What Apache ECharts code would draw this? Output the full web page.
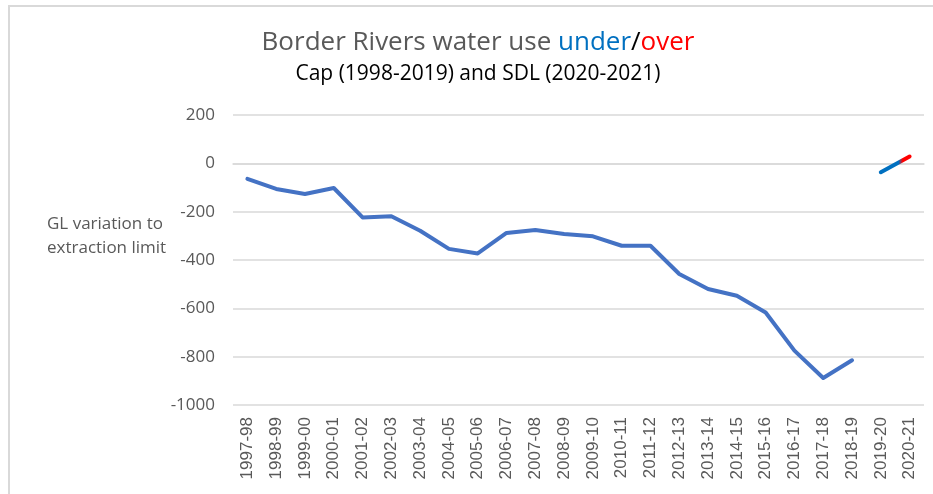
<!DOCTYPE html>
<html>
<head>
<meta charset="utf-8">
<script src="https://cdn.jsdelivr.net/npm/echarts@6/dist/echarts.min.js"></script>
<style>
  html, body { margin: 0; padding: 0; background: #fff; }
  #chart { width: 933px; height: 494px; }
</style>
</head>
<body>
<div id="chart"></div>
<script>
  // data
  const years = ['1997-98', '1998-99', '1999-00', '2000-01', '2001-02', '2002-03', '2003-04', '2004-05',
    '2005-06', '2006-07', '2007-08', '2008-09', '2009-10', '2010-11', '2011-12', '2012-13', '2013-14',
    '2014-15', '2015-16', '2016-17', '2017-18', '2018-19', '2019-20', '2020-21'];
  // Cap period (1998-2019)
  const capValues = [-64, -106, -127, -102, -224, -219, -279, -354, -373, -288, -276, -292, -302, -341,
    -341, -458, -520, -548, -617, -775, -888, -815, null, null];
  // SDL period (2020-2021)
  const sdlValues = [null, null, null, null, null, null, null, null, null, null, null, null, null, null,
    null, null, null, null, null, null, null, null, -37, 28];
  const yTicks = { min: -1000, max: 200, interval: 200 };

  const grey = '#595959';
  const chart = echarts.init(document.getElementById('chart'));

  const titleFont = { fontFamily: 'Open Sans', fontSize: 26, fontWeight: 'normal' };

  const option = {
    animation: false,
    backgroundColor: '#fff',
    title: {
      left: 473,
      textAlign: 'center',
      top: 25,
      text: '{a|Border Rivers water use }{u|under}{s|/}{o|over}',
      subtext: 'Cap (1998-2019) and SDL (2020-2021)',
      itemGap: 8,
      textStyle: {
        fontWeight: 'normal',
        rich: {
          a: Object.assign({ color: grey }, titleFont),
          u: Object.assign({ color: '#0070C0' }, titleFont),
          s: Object.assign({ color: '#000' }, titleFont),
          o: Object.assign({ color: '#FF0000' }, titleFont),
        },
      },
      subtextStyle: { fontFamily: 'Open Sans', fontSize: 21, color: '#000' },
    },
    graphic: [
      {
        type: 'rect',
        silent: true,
        shape: { x: 9, y: 6, width: 1000, height: 1000 },
        style: { fill: 'none', stroke: '#D9D9D9', lineWidth: 2 },
      },
      {
        type: 'text',
        left: 47,
        top: 212,
        style: {
          text: 'GL variation to\nextraction limit',
          fontFamily: 'Open Sans',
          fontSize: 17,
          lineHeight: 24,
          fill: grey,
          align: 'center',
        },
      },
    ],
    grid: { left: 233, right: 9, top: 115, bottom: 89, containLabel: false },
    xAxis: {
      type: 'category',
      data: years,
      boundaryGap: true,
      axisLine: { show: true, lineStyle: { color: '#D9D9D9', width: 1.5 } },
      axisTick: { show: false },
      axisLabel: {
        rotate: 90,
        interval: 0,
        margin: 12,
        fontFamily: 'Liberation Sans',
        fontSize: 17,
        color: grey,
      },
    },
    yAxis: {
      type: 'value',
      min: yTicks.min,
      max: yTicks.max,
      interval: yTicks.interval,
      axisLine: { show: false },
      axisTick: { show: false },
      axisLabel: {
        margin: 18,
        fontFamily: 'Open Sans',
        fontSize: 17,
        color: grey,
        formatter: function (v) { return String(v); },
      },
      splitLine: { lineStyle: { color: '#D9D9D9', width: 1.5 } },
    },
    series: [
      {
        name: 'Cap',
        type: 'line',
        data: capValues,
        showSymbol: false,
        connectNulls: false,
        lineStyle: { color: '#4472C4', width: 4, cap: 'round', join: 'round' },
      },
      {
        name: 'SDL',
        type: 'line',
        data: sdlValues,
        showSymbol: false,
        lineStyle: {
          width: 4,
          cap: 'round',
          color: new echarts.graphic.LinearGradient(0, 0, 1, 0, [
            { offset: 0, color: '#0070C0' },
            { offset: 0.6, color: '#0070C0' },
            { offset: 0.72, color: '#FF0000' },
            { offset: 1, color: '#FF0000' },
          ]),
        },
      },
    ],
  };

  option && chart.setOption(option);
</script>
</body>
</html>
